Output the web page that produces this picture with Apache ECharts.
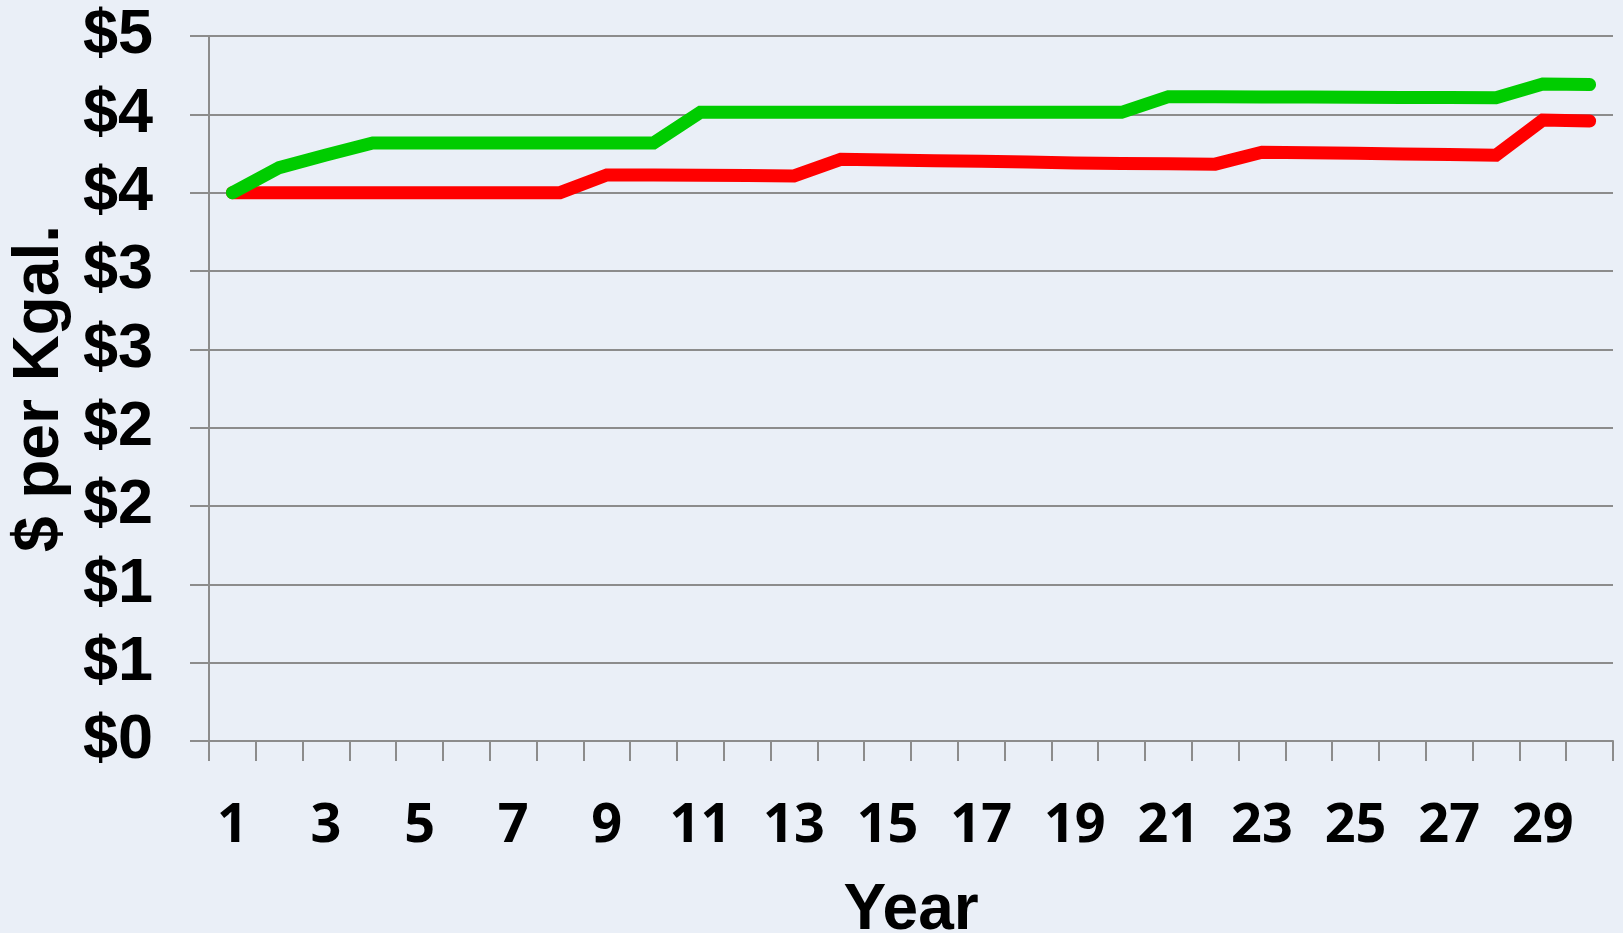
<!DOCTYPE html>
<html>
<head>
<meta charset="utf-8">
<script src="https://cdn.jsdelivr.net/npm/echarts@6/dist/echarts.min.js"></script>
<style>
  html, body { margin: 0; padding: 0; background: #eaeff7; }
  #chart { width: 1623px; height: 933px; }
</style>
</head>
<body>
<div id="chart"></div>
<script>
const years = Array.from({length: 30}, (_, i) => String(i + 1))

const redCost = [
  3.5, 3.5, 3.5, 3.5, 3.5, 3.5, 3.5, 3.5, 3.613, 3.613,
  3.611, 3.609, 3.607, 3.713, 3.708, 3.704, 3.7, 3.695, 3.69, 3.686,
  3.684, 3.682, 3.758, 3.755, 3.751, 3.747, 3.743, 3.739, 3.964, 3.957,
]

const greenCost = [
  3.5, 3.66, 3.74, 3.817, 3.817, 3.817, 3.817, 3.817, 3.817, 3.817,
  4.013, 4.013, 4.013, 4.013, 4.013, 4.013, 4.013, 4.013, 4.013, 4.013,
  4.113, 4.112, 4.111, 4.11, 4.109, 4.108, 4.107, 4.106, 4.193, 4.19,
]

const gridGray = '#8c8c8c'

const chart = echarts.init(document.getElementById('chart'))

chart.setOption({
  backgroundColor: '#eaeff7',
  animation: false,
  grid: {
    left: 209,
    right: 10,
    top: 36,
    bottom: 192,
    containLabel: false,
    outerBoundsMode: 'none',
  },
  xAxis: {
    type: 'category',
    data: years,
    boundaryGap: true,
    name: 'Year',
    nameLocation: 'middle',
    nameGap: 138,
    nameTextStyle: {
      fontFamily: 'Liberation Sans',
      fontWeight: 'bold',
      fontSize: 64,
      color: '#000',
    },
    axisLine: {lineStyle: {color: gridGray, width: 2}},
    axisTick: {
      show: true,
      interval: 0,
      length: 20,
      lineStyle: {color: gridGray, width: 2},
    },
    axisLabel: {
      interval: 1,
      margin: 59,
      fontFamily: 'Open Sans',
      fontWeight: 'bold',
      fontSize: 54,
      color: '#000',
    },
    splitLine: {show: false},
  },
  yAxis: {
    type: 'value',
    min: 0,
    max: 4.5,
    interval: 0.5,
    name: '$ per Kgal.',
    nameLocation: 'middle',
    nameGap: 135,
    nameTextStyle: {
      fontFamily: 'Liberation Sans',
      fontWeight: 'bold',
      fontSize: 64,
      color: '#000',
    },
    axisLine: {show: true, lineStyle: {color: gridGray, width: 2}},
    axisTick: {
      show: true,
      length: 19,
      lineStyle: {color: gridGray, width: 2},
    },
    axisLabel: {
      margin: 56,
      formatter: v => '$' + Math.round(v),
      fontFamily: 'Liberation Sans',
      fontWeight: 'bold',
      fontSize: 63,
      color: '#000',
    },
    splitLine: {show: true, lineStyle: {color: gridGray, width: 2}},
  },
  series: [
    {
      name: 'Red',
      type: 'line',
      data: redCost,
      symbol: 'none',
      lineStyle: {color: '#ff0000', width: 13, cap: 'round', join: 'miter'},
    },
    {
      name: 'Green',
      type: 'line',
      data: greenCost,
      symbol: 'none',
      lineStyle: {color: '#00cc00', width: 13, cap: 'round', join: 'miter'},
    },
  ],
})
</script>
</body>
</html>
